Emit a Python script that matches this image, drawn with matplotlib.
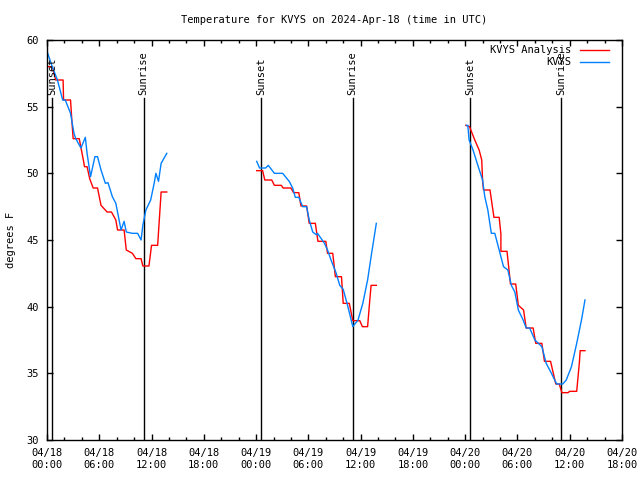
import datetime as dt
import matplotlib
matplotlib.use("Agg")
import matplotlib.pyplot as plt
import matplotlib.dates as mdates

plt.rcParams['font.family'] = 'DejaVu Sans Mono'
plt.rcParams['font.size'] = 7.5

start = dt.datetime(2024, 4, 18, 0, 0)

# observed temperature (hours after start, deg F), three separate pieces
obs_h1 = [0.03, 0.6, 1.2, 1.8, 2.1, 2.7, 3.1, 3.3, 3.9, 4.4, 4.6, 5.0, 5.5, 5.8, 6.2, 6.7, 7.0,
          7.5, 7.9, 8.5, 8.85, 9.1, 9.8, 10.4, 10.8, 11.0, 11.35, 11.9, 12.3, 12.5, 12.8, 13.1, 13.75]
obs_t1 = [59.1, 58.0, 57.0, 55.5, 55.5, 54.5, 53.0, 52.6, 51.9, 52.7, 51.5, 49.75, 51.25, 51.25, 50.25, 49.25, 49.3,
          48.25, 47.75, 45.75, 46.4, 45.6, 45.5, 45.5, 45.0, 46.1, 47.25, 48.0, 49.25, 50.0, 49.4, 50.75, 51.5]
obs_h2 = [24.07, 24.4, 25.1, 25.4, 26.1, 27.05, 27.8, 28.2, 28.5, 28.9, 29.35, 29.8, 30.1, 30.5, 30.9,
          31.05, 31.85, 32.2, 32.6, 33.2, 33.6, 34.0, 34.5, 35.1, 35.7, 36.25, 36.8, 37.2, 37.8]
obs_t2 = [50.9, 50.4, 50.4, 50.6, 50.0, 50.0, 49.4, 48.9, 48.2, 48.2, 47.5, 47.5, 46.5, 45.6, 45.4,
          45.5, 44.75, 44.25, 43.5, 42.5, 41.6, 41.3, 40.1, 38.5, 39.0, 40.25, 42.0, 43.75, 46.25]
obs_h3 = [48.15, 48.3, 48.45, 48.9, 49.5, 50.0, 50.25, 50.6, 51.0, 51.4, 51.8, 52.4, 52.9, 53.3, 53.7,
          54.1, 54.65, 55.0, 55.4, 56.0, 56.8, 57.3, 57.9, 58.5, 59.2, 59.6, 60.2, 60.8, 61.35, 61.75]
obs_t3 = [53.6, 53.6, 52.5, 51.75, 50.5, 49.5, 48.25, 47.25, 45.5, 45.5, 44.5, 43.0, 42.75, 41.6, 41.1,
          39.75, 39.0, 38.4, 38.4, 37.5, 37.0, 35.75, 35.0, 34.2, 34.2, 34.5, 35.5, 37.25, 39.0, 40.5]

# analysis temperature
ana_h1 = [0.0, 0.6, 1.0, 1.85, 1.9, 2.7, 2.85, 3.0, 3.7, 4.2, 4.3, 4.6, 4.9, 5.3, 5.8, 6.2, 6.9, 7.4,
          7.9, 8.1, 8.85, 9.1, 9.8, 10.2, 10.8, 11.0, 11.7, 12.0, 12.7, 13.1, 13.75]
ana_t1 = [58.0, 58.0, 57.0, 57.0, 55.5, 55.5, 54.0, 52.6, 52.6, 50.9, 50.5, 50.5, 49.6, 48.9, 48.9, 47.6, 47.1, 47.1,
          46.5, 45.75, 45.75, 44.25, 44.0, 43.6, 43.6, 43.05, 43.05, 44.6, 44.6, 48.6, 48.6]
ana_h2 = [24.07, 24.75, 25.0, 25.8, 26.1, 26.9, 27.1, 28.0, 28.3, 28.9, 29.15, 29.8, 30.1, 30.8, 31.1,
          32.0, 32.2, 32.8, 33.1, 33.8, 34.0, 34.7, 35.1, 35.9, 36.2, 36.8, 37.0, 37.2, 37.8]
ana_t2 = [50.2, 50.2, 49.5, 49.5, 49.1, 49.1, 48.9, 48.9, 48.55, 48.55, 47.55, 47.55, 46.25, 46.25, 44.9,
          44.9, 44.0, 44.0, 42.25, 42.25, 40.25, 40.25, 38.95, 38.95, 38.5, 38.5, 40.1, 41.6, 41.6]
ana_h3 = [48.07, 48.5, 49.1, 49.6, 49.9, 50.0, 50.1, 50.85, 51.3, 51.9, 52.1, 52.1, 52.8, 53.2, 53.8, 54.1,
          54.7, 55.0, 55.8, 56.1, 56.8, 57.1, 57.8, 58.4, 58.8, 59.1, 59.8, 60.0, 60.8, 61.1, 61.2, 61.75]
ana_t3 = [53.6, 53.5, 52.5, 51.75, 51.0, 49.4, 48.75, 48.75, 46.7, 46.7, 45.45, 44.15, 44.15, 41.7, 41.7, 40.1,
          39.75, 38.4, 38.4, 37.25, 37.25, 35.9, 35.9, 34.2, 34.2, 33.55, 33.55, 33.65, 33.65, 35.75, 36.7, 36.7]

sun_hours = [0.55, 11.1, 24.57, 35.07, 48.58, 59.05]
sun_labels = ["Sunset", "Sunrise", "Sunset", "Sunrise", "Sunset", "Sunrise"]


def to_time(hours):
    return [start + dt.timedelta(hours=h) for h in hours]


fig = plt.figure(figsize=(6.4, 4.8), dpi=100)
ax = fig.add_axes([47 / 640, 40 / 480, 575 / 640, 400 / 480])

red = '#ff0000'
blue = '#0080ff'

# sunrise / sunset markers
for h, lab in zip(sun_hours, sun_labels):
    t = start + dt.timedelta(hours=h)
    ax.plot([t, t], [30, 55.65], color='black', lw=1)
    ax.text(t, 55.9, lab, rotation=90, ha='center', va='bottom', fontsize=7.5)

ax.plot(to_time(ana_h1), ana_t1, color=red, lw=1, label='KVYS Analysis')
ax.plot(to_time(ana_h2), ana_t2, color=red, lw=1)
ax.plot(to_time(ana_h3), ana_t3, color=red, lw=1)
ax.plot(to_time(obs_h1), obs_t1, color=blue, lw=1, label='KVYS')
ax.plot(to_time(obs_h2), obs_t2, color=blue, lw=1)
ax.plot(to_time(obs_h3), obs_t3, color=blue, lw=1)

ax.set_xlim(start, start + dt.timedelta(hours=66))
ax.set_ylim(30, 60)
ax.set_yticks([30, 35, 40, 45, 50, 55, 60])

ax.xaxis.set_major_locator(mdates.HourLocator(byhour=[0, 6, 12, 18]))
ax.xaxis.set_minor_locator(mdates.HourLocator(byhour=range(0, 24, 2)))
ax.xaxis.set_major_formatter(mdates.DateFormatter('%m/%d\n%H:%M'))

ax.tick_params(axis='both', which='major', direction='in', length=4, width=1,
               top=True, right=True, pad=6)
ax.tick_params(axis='x', which='minor', direction='in', length=2, width=1, top=True)
for s in ax.spines.values():
    s.set_linewidth(1)

ax.set_title("Temperature for KVYS on 2024-Apr-18 (time in UTC)", fontsize=7.5, pad=12)
ax.set_ylabel("degrees F", labelpad=7)

ax.legend(loc='upper right', bbox_to_anchor=(1 - 8 / 575, 1.0), frameon=False,
          markerfirst=False, handlelength=2.8,
          borderaxespad=0.1, labelspacing=0.2, handletextpad=0.8)

fig.savefig("out.png", dpi=100)
